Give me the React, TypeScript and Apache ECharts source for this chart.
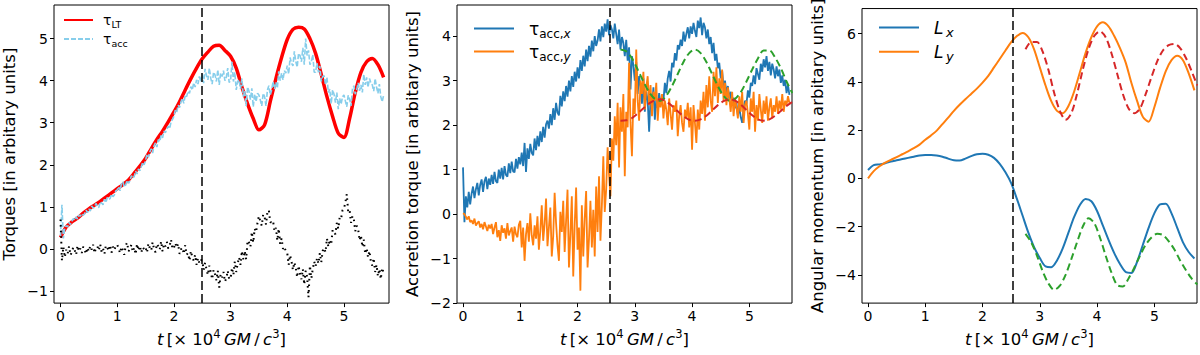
import React, { useEffect, useRef } from 'react';
import * as echarts from 'echarts';

// ---------- data ----------
const STEP = 0.025; // sampling of the noisy series (t in 10^4 GM/c^3)
const SMOOTH_STEP = 0.1; // sampling of the smooth series
const FIT_START = 2.75; // first t of the fitted (dashed) curves
const FIT_STEP = 0.1;

const xTicks = [0, 1, 2, 3, 4, 5];
const yTicks1 = [-1, 0, 1, 2, 3, 4, 5];
const yTicks2 = [-2, -1, 0, 1, 2, 3, 4];
const yTicks3 = [-4, -2, 0, 2, 4, 6];
const vLines = [2.5, 2.56, 2.53];

// Panel 1
const tauLT = [
  0.27, 0.52, 0.64, 0.73, 0.85, 0.95, 1.04, 1.13, 1.23, 1.33,
  1.43, 1.53, 1.64, 1.80, 1.97, 2.15, 2.38, 2.60, 2.80, 3.02,
  3.25, 3.50, 3.78, 4.05, 4.30, 4.52, 4.68, 4.82, 4.84, 4.72,
  4.58, 4.30, 3.85, 3.45, 3.10, 2.83, 2.95, 3.50, 4.05, 4.55,
  4.98, 5.22, 5.27, 5.23, 5.00, 4.65, 4.15, 3.62, 3.15, 2.75,
  2.65, 3.10, 3.72, 4.20, 4.45, 4.53, 4.38, 4.08,
];
const tauAcc = [
  0.30, 1.05, 0.25, 0.50, 0.55, 0.52, 0.63, 0.58, 0.66, 0.72, 0.68, 0.76, 0.71, 0.80, 0.78, 0.84, 0.80, 0.83, 0.92, 0.86,
  0.95, 0.90, 1.02, 0.97, 0.99, 1.08, 1.02, 0.98, 1.12, 1.09, 1.05, 1.18, 1.10, 1.22, 1.17, 1.20, 1.30, 1.24, 1.28, 1.38,
  1.40, 1.48, 1.38, 1.55, 1.60, 1.47, 1.52, 1.63, 1.56, 1.62, 1.74, 1.68, 1.72, 1.85, 1.78, 1.90, 1.86, 1.95, 2.06, 2.00,
  2.10, 2.25, 2.18, 2.30, 2.38, 2.28, 2.45, 2.52, 2.42, 2.60, 2.55, 2.70, 2.64, 2.80, 2.76, 2.85, 2.92, 2.86, 3.02, 3.08,
  3.15, 3.30, 3.25, 3.42, 3.36, 3.50, 3.58, 3.46, 3.66, 3.62, 3.75, 3.70, 3.86, 3.78, 3.95, 3.85, 4.02, 3.92, 4.10, 3.98,
  4.16, 3.94, 4.28, 4.12, 4.02, 4.30, 4.06, 3.92, 4.20, 4.14, 3.98, 4.26, 3.90, 4.18, 4.10, 4.24, 4.00, 4.08, 4.30, 3.96,
  4.00, 4.45, 3.98, 4.20, 3.78, 3.98, 4.02, 3.80, 4.05, 3.62, 3.75, 3.40, 3.85, 3.75, 3.55, 3.82, 3.38, 3.68, 3.50, 3.70,
  3.66, 3.54, 3.40, 3.70, 3.62, 3.40, 3.78, 3.88, 3.66, 3.78, 3.98, 3.80, 3.96, 3.82, 4.22, 4.00, 4.18, 4.02, 4.24, 4.18,
  4.36, 4.16, 4.55, 4.42, 4.35, 4.70, 4.46, 4.32, 4.65, 4.60, 4.45, 4.78, 4.38, 5.00, 4.60, 4.72, 4.38, 4.45, 4.62, 4.20,
  4.20, 4.42, 4.20, 4.35, 3.98, 4.10, 4.12, 3.90, 4.08, 3.72, 3.80, 3.45, 3.78, 3.68, 3.48, 3.72, 3.32, 3.58, 3.44, 3.62,
  3.66, 3.52, 3.38, 3.65, 3.56, 3.40, 3.80, 3.88, 3.68, 3.78, 3.95, 3.76, 3.90, 3.72, 4.15, 3.90, 4.08, 3.84, 4.05, 3.95,
  3.90, 3.75, 4.05, 3.85, 3.70, 3.92, 3.62, 3.50, 3.65,
];
const tauDiff = [
  0.70, -0.28, 0.05, -0.20, -0.02, -0.12, 0.06, -0.15, -0.08, 0.04, -0.03, -0.14, 0.08, -0.06, 0.01, -0.10, 0.05, -0.02, -0.12, 0.03,
  -0.06, 0.07, -0.02, 0.10, -0.10, 0.02, 0.06, -0.04, 0.11, -0.07, 0.01, -0.12, 0.08, 0.03, -0.05, 0.09, -0.09, 0.05, -0.03, 0.07,
  0.10, 0.01, -0.10, 0.05, -0.03, -0.14, 0.08, 0.15, -0.06, 0.00, 0.10, -0.07, 0.03, -0.13, 0.12, -0.04, 0.07, -0.09, 0.04, -0.01,
  0.04, -0.09, 0.13, 0.02, -0.04, 0.16, -0.01, -0.08, 0.12, 0.06, -0.02, 0.18, -0.06, 0.12, 0.06, 0.17, 0.01, 0.07, 0.22, 0.00,
  0.02, 0.14, 0.03, 0.12, -0.12, -0.01, 0.03, -0.12, 0.09, -0.14, -0.10, -0.28, -0.05, -0.20, -0.28, -0.14, -0.38, -0.22, -0.34, -0.26,
  -0.28, -0.50, -0.33, -0.48, -0.62, -0.40, -0.55, -0.72, -0.50, -0.60, -0.75, -0.52, -0.92, -0.60, -0.68, -0.55, -0.78, -0.70, -0.52, -0.72,
  -0.70, -0.45, -0.62, -0.30, -0.55, -0.35, -0.20, -0.38, -0.05, -0.25, -0.05, -0.25, 0.20, 0.15, 0.05, 0.40, 0.15, 0.48, 0.40, 0.62,
  0.78, 0.66, 0.55, 0.82, 0.76, 0.58, 0.88, 0.92, 0.64, 0.62, 0.66, 0.42, 0.50, 0.20, 0.48, 0.12, 0.25, 0.00, 0.05, -0.06,
  -0.10, -0.38, -0.15, -0.30, -0.50, -0.32, -0.45, -0.68, -0.40, -0.60, -0.72, -0.48, -0.85, -0.52, -0.66, -1.15, -0.40, -0.70, -0.48, -0.30,
  -0.42, -0.22, -0.35, -0.10, -0.32, -0.05, 0.02, -0.08, 0.25, 0.05, 0.22, 0.10, 0.45, 0.38, 0.35, 0.62, 0.48, 0.75, 0.72, 0.92,
  0.95, 1.10, 1.30, 0.88, 0.92, 0.62, 0.78, 0.70, 0.42, 0.55, 0.48, 0.20, 0.32, 0.05, 0.22, -0.12, 0.02, -0.20, -0.05, -0.30,
  -0.40, -0.22, -0.55, -0.38, -0.65, -0.48, -0.72, -0.45, -0.58,
];

// Panel 2
const accX = [
  1.05, -0.18, 0.40, 0.15, 0.50, 0.22, 0.46, 0.62, 0.36, 0.56, 0.70, 0.42, 0.66, 0.78, 0.50, 0.74, 0.84, 0.56, 0.80, 0.66,
  0.88, 0.68, 0.95, 0.74, 0.70, 1.00, 0.80, 1.04, 0.78, 1.08, 0.88, 0.84, 1.14, 0.92, 1.18, 0.96, 0.94, 1.24, 1.02, 1.28,
  1.12, 1.38, 1.08, 1.60, 0.95, 1.48, 1.24, 1.58, 1.38, 1.32, 1.70, 1.44, 1.76, 1.52, 1.86, 1.62, 1.96, 1.72, 2.02, 2.10,
  1.92, 2.25, 2.00, 2.38, 2.12, 2.50, 2.28, 2.22, 2.66, 2.42, 2.76, 2.54, 2.88, 2.64, 3.00, 2.76, 3.10, 2.86, 3.20, 2.98,
  3.30, 3.05, 3.46, 3.22, 3.56, 3.32, 3.70, 3.44, 3.78, 3.54, 3.90, 3.66, 4.00, 3.78, 3.90, 4.15, 3.88, 4.22, 3.98, 4.28,
  4.10, 4.38, 4.02, 4.25, 4.15, 3.95, 4.28, 4.05, 3.82, 4.15, 3.70, 3.98, 3.85, 3.55, 3.92, 3.45, 3.75, 2.80, 3.55, 3.35,
  3.00, 3.42, 2.70, 3.10, 2.85, 2.48, 3.05, 2.30, 2.75, 2.55, 1.85, 2.62, 2.40, 2.85, 2.12, 2.58, 2.38, 2.72, 2.48, 2.62,
  2.55, 2.95, 2.72, 3.05, 3.22, 2.98, 3.40, 3.30, 3.62, 3.45, 3.80, 3.70, 3.92, 3.78, 4.10, 3.88, 4.05, 4.20, 3.95, 4.22,
  4.05, 4.30, 4.12, 3.98, 4.35, 4.18, 4.42, 4.02, 4.30, 4.20, 3.95, 4.15, 3.82, 3.98, 3.62, 3.85, 3.45, 3.60, 3.28, 3.40,
  3.05, 3.22, 2.85, 3.00, 2.70, 2.88, 2.58, 2.75, 2.45, 2.62, 2.38, 2.50, 2.22, 2.40, 2.18, 2.05, 2.38, 2.55, 2.48, 2.78,
  2.62, 2.95, 2.88, 3.12, 2.92, 3.28, 3.15, 3.02, 3.38, 3.20, 3.48, 3.30, 3.55, 3.22, 3.42, 3.12, 3.38, 3.25, 3.05, 3.32,
  3.10, 3.25, 2.95, 3.12, 2.88, 3.02, 2.72, 2.90, 2.68,
];
const accY = [
  0.02, 0.00, -0.06, -0.12, -0.05, -0.18, -0.14, -0.22, -0.10, -0.26, -0.20, -0.16, -0.30, -0.22, -0.34, -0.18, -0.28, -0.38, -0.24, -0.32,
  -0.22, -0.45, -0.30, -0.18, -0.52, -0.36, -0.60, -0.25, -0.42, -0.32, -0.55, -0.20, -0.48, -0.38, -0.30, -0.62, -0.28, -0.45, -0.52, -0.24,
  -0.15, -0.75, -0.30, -1.05, -0.45, -0.20, -0.62, 0.02, -0.48, -0.70, -0.25, -0.55, -0.05, -0.80, -0.38, 0.20, -0.60, -0.22, 0.35, -0.72,
  -0.30, 0.15, -0.95, -0.50, 0.48, -0.20, -0.70, -1.05, 0.05, -0.40, 0.30, -0.85, -0.15, 0.55, -1.20, -0.45, 0.40, -1.40, -0.25, 0.60,
  -0.80, -0.30, -1.72, 0.20, -0.95, -0.10, 0.52, -1.20, -0.55, 0.30, -0.75, 0.10, -0.95, 0.62, -0.40, 0.85, -0.60, 0.20, 1.30, 0.05,
  0.55, 1.50, 0.90, 0.40, 1.70, 1.20, 2.20, 1.55, 2.50, 1.05, 2.40, 1.85, 2.70, 0.85, 2.30, 1.95, 3.40, 2.05, 1.30, 2.60,
  2.25, 3.70, 2.55, 2.10, 3.00, 2.70, 3.20, 2.35, 2.85, 3.10, 2.45, 2.90, 2.20, 2.75, 2.55, 2.95, 2.10, 2.60, 2.40, 2.70,
  2.15, 2.55, 2.35, 2.00, 2.60, 2.25, 1.90, 2.45, 2.30, 2.55, 1.75, 2.20, 2.45, 2.05, 1.85, 2.35, 2.15, 2.50, 1.95, 2.40,
  1.45, 2.45, 2.05, 1.60, 2.35, 1.90, 2.55, 2.25, 2.75, 2.10, 2.90, 2.40, 3.10, 2.55, 2.30, 3.20, 2.65, 3.30, 2.50, 3.05,
  2.70, 3.25, 2.55, 2.95, 2.45, 2.85, 2.60, 2.30, 2.75, 2.20, 2.60, 2.40, 2.15, 2.65, 2.30, 2.75, 2.05, 2.45, 2.55, 2.25,
  1.90, 2.60, 2.30, 2.75, 1.85, 2.45, 2.10, 2.70, 2.35, 2.05, 2.55, 2.25, 2.65, 2.10, 2.40, 2.60, 2.15, 2.45, 2.30, 2.65,
  2.25, 2.55, 2.35, 2.70, 2.30, 2.55, 2.45, 2.65, 2.50,
];
const fitAccX = [
  3.70, 3.66, 3.50, 3.25, 2.98, 2.74, 2.59, 2.55, 2.66, 2.88,
  3.15, 3.42, 3.62, 3.70, 3.62, 3.42, 3.15, 2.88, 2.66, 2.55,
  2.59, 2.74, 2.98, 3.25, 3.50, 3.68, 3.68, 3.52, 3.28, 2.98, 2.72,
];
const fitAccY = [
  2.10, 2.11, 2.16, 2.26, 2.38, 2.49, 2.56, 2.58, 2.53, 2.43,
  2.31, 2.20, 2.12, 2.10, 2.13, 2.21, 2.33, 2.45, 2.54, 2.58,
  2.55, 2.46, 2.34, 2.22, 2.13, 2.10, 2.13, 2.21, 2.32, 2.43, 2.52,
];

// Panel 3
const Lx = [
  0.35, 0.55, 0.58, 0.63, 0.70, 0.75, 0.80, 0.85, 0.90, 0.95,
  0.97, 0.97, 0.95, 0.90, 0.82, 0.75, 0.74, 0.82, 0.92, 1.00,
  1.02, 0.98, 0.85, 0.60, 0.25, -0.20, -0.85, -1.55, -2.25, -2.85,
  -3.30, -3.65, -3.68, -3.40, -2.90, -2.25, -1.60, -1.10, -0.85, -0.95,
  -1.35, -1.95, -2.55, -3.10, -3.55, -3.88, -3.92, -3.45, -2.75, -2.05,
  -1.45, -1.08, -1.05, -1.45, -2.05, -2.65, -3.05, -3.32,
];
const Ly = [
  0.00, 0.30, 0.50, 0.65, 0.77, 0.88, 1.00, 1.12, 1.25, 1.40,
  1.60, 1.78, 1.98, 2.25, 2.52, 2.80, 3.05, 3.28, 3.50, 3.72,
  3.97, 4.25, 4.60, 4.95, 5.30, 5.65, 5.90, 6.03, 5.85, 5.35,
  4.60, 3.85, 3.20, 2.80, 2.70, 3.00, 3.60, 4.40, 5.20, 5.85,
  6.30, 6.47, 6.30, 5.90, 5.40, 4.80, 3.95, 3.20, 2.55, 2.35,
  2.95, 3.75, 4.45, 4.90, 5.08, 4.90, 4.35, 3.65,
];
const fitLx = [
  -2.30, -2.65, -3.20, -3.85, -4.35, -4.62, -4.45, -4.00, -3.35, -2.65,
  -2.00, -1.65, -1.85, -2.45, -3.20, -3.90, -4.42, -4.48, -4.15, -3.70,
  -3.20, -2.75, -2.45, -2.30, -2.35, -2.60, -2.95, -3.40, -3.80, -4.15, -4.40,
];
const fitLy = [
  5.35, 5.65, 5.65, 5.25, 4.50, 3.55, 2.80, 2.43, 2.70, 3.50,
  4.50, 5.35, 5.90, 6.10, 5.85, 5.20, 4.35, 3.50, 2.90, 2.70,
  2.90, 3.50, 4.20, 4.85, 5.30, 5.52, 5.57, 5.40, 5.00, 4.45, 3.85,
];

// ---------- helpers ----------
const FONT = 'DejaVu Sans';
const pts = (vals: number[], start: number, step: number) =>
  vals.map((v, i) => [Number((start + i * step).toFixed(4)), v]);
const fmt = (v: number) => (v < 0 ? '\u2212' + Math.abs(v) : String(v));

const xName = '{i|t}\u2009[\u00d7 10{s|4}\u2009{i|GM}\u2009/\u2009{i|c}{s|3}]';
const xNameRich = {
  i: { fontFamily: FONT, fontStyle: 'italic', fontSize: 16.5, color: '#000', lineHeight: 22 },
  s: { fontFamily: FONT, fontSize: 11.5, color: '#000', verticalAlign: 'top', lineHeight: 12 },
};

function makeX(gridIndex: number, min: number, max: number) {
  return {
    type: 'value',
    gridIndex,
    min,
    max,
    name: xName,
    nameLocation: 'middle',
    nameGap: 22,
    nameTextStyle: { fontFamily: FONT, fontSize: 16.5, color: '#000', lineHeight: 22, rich: xNameRich },
    axisLine: { show: false, onZero: false },
    splitLine: { show: false },
    axisTick: { show: true, length: 4, lineStyle: { color: '#000', width: 1 }, customValues: xTicks },
    axisLabel: { color: '#000', fontFamily: FONT, fontSize: 14, margin: 6, customValues: xTicks, formatter: fmt },
  };
}
function makeY(gridIndex: number, min: number, max: number, name: string, ticks: number[]) {
  return {
    type: 'value',
    gridIndex,
    min,
    max,
    name,
    nameLocation: 'middle',
    nameGap: 36,
    nameTextStyle: { fontFamily: FONT, fontSize: 16.5, color: '#000' },
    axisLine: { show: false, onZero: false },
    splitLine: { show: false },
    axisTick: { show: true, length: 4, lineStyle: { color: '#000', width: 1 }, customValues: ticks },
    axisLabel: { color: '#000', fontFamily: FONT, fontSize: 14, margin: 6, customValues: ticks, formatter: fmt },
  };
}
function vMark(x: number) {
  return {
    silent: true,
    symbol: ['none', 'none'],
    label: { show: false },
    lineStyle: { color: '#000', type: [9, 4], width: 1.5 },
    emphasis: { disabled: true },
    data: [{ xAxis: x }],
  };
}
const legendNames: Record<string, string> = {
  tauLT: '{g|\u03c4}{s|LT}',
  tauAcc: '{g|\u03c4}{s|acc}',
  tauAccX: '{g|\u03c4}{s|acc,}{si|x}',
  tauAccY: '{g|\u03c4}{s|acc,}{si|y}',
  Lx: '{i|L}{si|\u2009x}',
  Ly: '{i|L}{si|\u2009y}',
};

export default function App() {
  const ref = useRef<HTMLDivElement>(null);
  useEffect(() => {
    if (!ref.current) return;
    const chart = echarts.init(ref.current, undefined, { renderer: 'svg' });
    const gridBase = { show: true, borderColor: '#000', borderWidth: 1, backgroundColor: 'transparent', containLabel: false };
    const option: any = {
      animation: false,
      backgroundColor: '#fff',
      grid: [
        { ...gridBase, left: 52, top: 5, width: 337, height: 304 },
        { ...gridBase, left: 457, top: 5, width: 335, height: 304 },
        { ...gridBase, left: 862, top: 5, width: 335, height: 305 },
      ],
      xAxis: [makeX(0, -0.115, 5.795), makeX(1, -0.105, 5.745), makeX(2, -0.105, 5.745)],
      yAxis: [
        makeY(0, -1.29, 5.8, 'Torques [in arbitary units]', yTicks1),
        makeY(1, -2.0, 4.7, 'Accretion torque [in arbitary units]', yTicks2),
        makeY(2, -5.17, 7.04, 'Angular momentum [in arbitary units]', yTicks3),
      ],
      legend: [
        {
          data: ['tauLT', 'tauAcc'],
          orient: 'vertical',
          left: 63,
          top: 13,
          padding: 0,
          itemWidth: 29,
          itemHeight: 14,
          itemGap: 3,
          itemStyle: { opacity: 0 },
          formatter: (n: string) => legendNames[n],
          textStyle: {
            fontFamily: FONT,
            color: '#000',
            padding: [0, 0, 0, 5],
            rich: {
              g: { fontFamily: FONT, fontSize: 14, lineHeight: 18, color: '#000' },
              s: { fontFamily: FONT, fontSize: 9.5, lineHeight: 10, verticalAlign: 'bottom', color: '#000' },
            },
          },
        },
        {
          data: ['tauAccX', 'tauAccY'],
          orient: 'vertical',
          left: 473,
          top: 20,
          padding: 0,
          itemWidth: 40,
          itemHeight: 16,
          itemGap: 3.6,
          itemStyle: { opacity: 0 },
          formatter: (n: string) => legendNames[n],
          textStyle: {
            fontFamily: FONT,
            color: '#000',
            padding: [0, 0, 0, 10],
            rich: {
              g: { fontFamily: FONT, fontSize: 17, lineHeight: 22, color: '#000' },
              s: { fontFamily: FONT, fontSize: 12, lineHeight: 12, verticalAlign: 'bottom', color: '#000' },
              si: { fontFamily: FONT, fontSize: 12, fontStyle: 'italic', lineHeight: 12, verticalAlign: 'bottom', color: '#000' },
            },
          },
        },
        {
          data: ['Lx', 'Ly'],
          orient: 'vertical',
          left: 878,
          top: 19,
          padding: 0,
          itemWidth: 40,
          itemHeight: 16,
          itemGap: 4.7,
          itemStyle: { opacity: 0 },
          formatter: (n: string) => legendNames[n],
          textStyle: {
            fontFamily: FONT,
            color: '#000',
            padding: [0, 0, 0, 10],
            rich: {
              i: { fontFamily: FONT, fontSize: 17, fontStyle: 'italic', lineHeight: 22, color: '#000' },
              si: { fontFamily: FONT, fontSize: 13, fontStyle: 'italic', lineHeight: 13, verticalAlign: 'bottom', color: '#000' },
            },
          },
        },
      ],
      series: [
        // Panel 1
        {
          name: 'tauLT', type: 'line', xAxisIndex: 0, yAxisIndex: 0, data: pts(tauLT, 0, SMOOTH_STEP),
          smooth: 0.3, symbol: 'none', lineStyle: { color: '#ff0000', width: 3.5 }, itemStyle: { color: '#ff0000' },
          markLine: vMark(vLines[0]),
        },
        {
          name: 'tauAcc', type: 'line', xAxisIndex: 0, yAxisIndex: 0, data: pts(tauAcc, 0, STEP),
          symbol: 'none', lineStyle: { color: '#87ceeb', width: 1.6, type: [5, 2] }, itemStyle: { color: '#87ceeb' },
        },
        {
          name: 'diff', type: 'line', xAxisIndex: 0, yAxisIndex: 0, data: pts(tauDiff, 0, STEP),
          symbol: 'none', lineStyle: { color: '#000', width: 2, type: [1.6, 4] }, itemStyle: { color: '#000' },
        },
        // Panel 2
        {
          name: 'tauAccX', type: 'line', xAxisIndex: 1, yAxisIndex: 1, data: pts(accX, 0, STEP),
          symbol: 'none', lineStyle: { color: '#1f77b4', width: 1.8 }, itemStyle: { color: '#1f77b4' },
          markLine: vMark(vLines[1]),
        },
        {
          name: 'tauAccY', type: 'line', xAxisIndex: 1, yAxisIndex: 1, data: pts(accY, 0, STEP),
          symbol: 'none', lineStyle: { color: '#ff7f0e', width: 1.8 }, itemStyle: { color: '#ff7f0e' },
        },
        {
          name: 'fitAccX', type: 'line', xAxisIndex: 1, yAxisIndex: 1, data: pts(fitAccX, FIT_START, FIT_STEP),
          smooth: 0.3, symbol: 'none', lineStyle: { color: '#2ca02c', width: 2, type: [7, 4] },
        },
        {
          name: 'fitAccY', type: 'line', xAxisIndex: 1, yAxisIndex: 1, data: pts(fitAccY, FIT_START, FIT_STEP),
          smooth: 0.3, symbol: 'none', lineStyle: { color: '#d62728', width: 2, type: [7, 4] },
        },
        // Panel 3
        {
          name: 'Lx', type: 'line', xAxisIndex: 2, yAxisIndex: 2, data: pts(Lx, 0, SMOOTH_STEP),
          smooth: 0.3, symbol: 'none', lineStyle: { color: '#1f77b4', width: 2 }, itemStyle: { color: '#1f77b4' },
          markLine: vMark(vLines[2]),
        },
        {
          name: 'Ly', type: 'line', xAxisIndex: 2, yAxisIndex: 2, data: pts(Ly, 0, SMOOTH_STEP),
          smooth: 0.3, symbol: 'none', lineStyle: { color: '#ff7f0e', width: 2 }, itemStyle: { color: '#ff7f0e' },
        },
        {
          name: 'fitLx', type: 'line', xAxisIndex: 2, yAxisIndex: 2, data: pts(fitLx, FIT_START, FIT_STEP),
          smooth: 0.3, symbol: 'none', lineStyle: { color: '#2ca02c', width: 2, type: [7, 4] },
        },
        {
          name: 'fitLy', type: 'line', xAxisIndex: 2, yAxisIndex: 2, data: pts(fitLy, FIT_START, FIT_STEP),
          smooth: 0.3, symbol: 'none', lineStyle: { color: '#d62728', width: 2, type: [7, 4] },
        },
      ],
    };
    chart.setOption(option);
    return () => chart.dispose();
  }, []);
  return (
    <div
      ref={ref}
      style={{ position: 'absolute', left: 0, top: 0, width: 1200, height: 355, background: '#fff' }}
    />
  );
}
